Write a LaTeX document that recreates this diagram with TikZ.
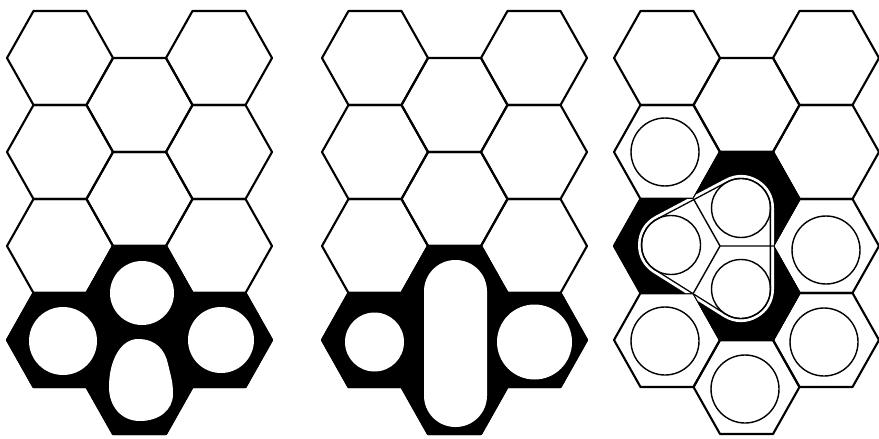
\documentclass[tikz,border=0pt]{standalone}
\usepackage{tikz}
\newcommand{\hexcell}[3][]{\draw[cellline,#1,shift={(#2,#3)}] (53,0) -- (26.5,47) -- (-26.5,47) -- (-53,0) -- (-26.5,-47) -- (26.5,-47) -- cycle;}

\begin{document}
\begin{tikzpicture}[x=0.3mm,y=-0.3mm,
cellline/.style={line width=1.8pt,line join=round},
cellring/.style={line width=1.2pt},
hole/.style={fill=white}]
\useasboundingbox (0,0) rectangle (879,438);
\foreach \bx in {60,375,667}
 \foreach \c in {0,1,2}
  \foreach \r in {0,...,3} {
   \pgfmathsetmacro\hx{\bx+79.5*\c}
   \pgfmathsetmacro\hy{58+94*\r+47*mod(\c,2)}
   \hexcell{\hx}{\hy}
  }
% black clusters, first two panels
\foreach \bx in {60,375} {
 \hexcell[fill=black]{\bx}{340}
 \hexcell[fill=black]{\bx+79.5}{293}
 \hexcell[fill=black]{\bx+79.5}{387}
 \hexcell[fill=black]{\bx+159}{340}
}
\fill[hole] (63,341) circle (34);
\fill[hole] (142,293) circle (32);
\fill[hole] (140,421) .. controls (121,421) and (109,406) .. (109,387)
 .. controls (109,360) and (121,339) .. (138,339)
 .. controls (156,339) and (165,350) .. (168,364)
 .. controls (171,377) and (173,382) .. (173,394)
 .. controls (173,410) and (159,421) .. (140,421) -- cycle;
\fill[hole] (221,340) circle (33);
\fill[hole] (374.5,342) circle (29.5);
\fill[hole,rounded corners=9.4mm] (424,260) rectangle (487,427);
\fill[hole] (534.5,342) circle (37.5);
% third panel
\foreach \p in {(665,152),(665,341),(745,389),(826,250),(824,342)}
 \draw[cellring] \p circle (34);
\filldraw[black,cellline] (614,246) -- (640.5,199) -- (693.5,199) -- (720,152) -- (773,152) -- (799.5,199)
 -- (773,246) -- (799.5,293) -- (773,340) -- (720,340) -- (693.5,293) -- (640.5,293) -- cycle;
\begin{scope}
\clip (614,246) -- (640.5,199) -- (693.5,199) -- (720,152) -- (773,152) -- (799.5,199)
 -- (773,246) -- (799.5,293) -- (773,340) -- (720,340) -- (693.5,293) -- (640.5,293) -- cycle;
\filldraw[white,line width=19.8mm,line join=round] (741,208) -- (671,245) -- (741,289) -- cycle;
\end{scope}
\filldraw[black,line width=51.4pt,line join=round] (741,208) -- (671,245) -- (741,289) -- cycle;
\filldraw[white,line width=49pt,line join=round] (741,208) -- (671,245) -- (741,289) -- cycle;
\draw[cellring] (720,246) -- (693.5,199) (720,246) -- (773,246) (720,246) -- (693.5,293);
\draw[cellring] (741,208) circle (29.5);
\draw[cellring] (671,245) circle (29.5);
\draw[cellring] (741,289) circle (29.5);
\end{tikzpicture}
\end{document}
